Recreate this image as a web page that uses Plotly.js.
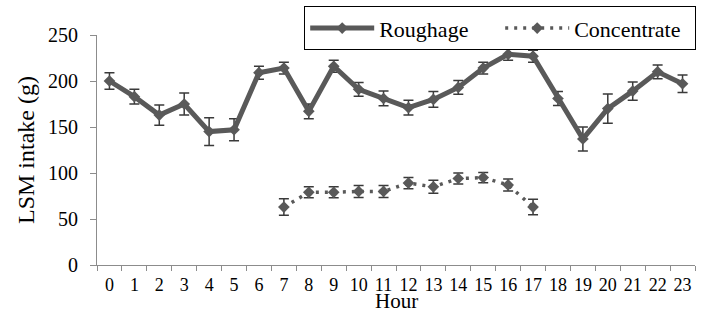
<!DOCTYPE html>
<html>
<head>
<meta charset="utf-8">
<script src="https://cdn.plot.ly/plotly-3.0.1.min.js"></script>
<style>
  html, body { margin: 0; padding: 0; background: #fff; }
  #chart { width: 702px; height: 313px; }
</style>
</head>
<body>
<div id="chart"></div>
<script>
// ---- data ----
var hours = ['0','1','2','3','4','5','6','7','8','9','10','11','12','13','14','15','16','17','18','19','20','21','22','23'];
var roughage = [200, 183, 163, 175, 145, 147, 209, 214, 167, 216, 191, 181, 171, 180, 193, 214, 229, 227, 181, 137, 170, 189, 210, 197];
var roughageErr = [9, 8, 11, 12, 15, 12, 7, 6.5, 8, 6.5, 7.5, 8, 8, 8.5, 7.5, 6.5, 6.5, 6.5, 7.5, 13, 16, 10, 7.5, 9.5];
var concHours = ['7','8','9','10','11','12','13','14','15','16','17'];
var concentrate = [63, 79, 79, 80, 80, 89, 85, 94, 95, 87, 63];
var concentrateErr = [9, 6, 6, 6.5, 6.5, 6, 7, 6, 5.5, 6.5, 8.5];
var yTicks = [0, 50, 100, 150, 200, 250];

var FONT = 'Liberation Serif';
var LINE = '#595959';
var ERR = '#3a3a3a';
var AX = '#8c8c8c';

var traces = [
  {
    name: 'Roughage', x: hours, y: roughage, type: 'scatter', mode: 'lines+markers',
    line: {color: LINE, width: 5},
    marker: {symbol: 'diamond', size: 9, color: LINE},
    error_y: {type: 'data', array: roughageErr, visible: true, color: ERR, thickness: 1.5, width: 5}
  },
  {
    name: 'Concentrate', x: concHours, y: concentrate, type: 'scatter', mode: 'lines+markers',
    line: {color: LINE, width: 3.5, dash: '3px,6px'},
    marker: {symbol: 'diamond', size: 9, color: LINE},
    error_y: {type: 'data', array: concentrateErr, visible: true, color: ERR, thickness: 1.5, width: 5}
  }
];

var layout = {
  width: 702, height: 313,
  margin: {l: 97, r: 6, t: 33, b: 48},
  paper_bgcolor: '#fff', plot_bgcolor: '#fff',
  font: {family: FONT, color: '#000', size: 18},
  showlegend: true,
  legend: {
    orientation: 'h', x: 1.002, xanchor: 'right', y: 1.125, yanchor: 'top',
    bordercolor: '#000', borderwidth: 1, bgcolor: '#fff',
    font: {family: FONT, size: 22, color: '#000'},
    itemwidth: 64, entrywidth: 116, tracegroupgap: 0
  },
  xaxis: {
    type: 'category', categoryarray: hours, categoryorder: 'array',
    range: [-0.5, 23.5], tickson: 'boundaries',
    showline: true, linecolor: AX, linewidth: 1,
    ticks: 'outside', ticklen: 5, tickcolor: AX,
    tickangle: 0, ticklabelstandoff: 3,
    tickfont: {family: FONT, size: 18, color: '#000'},
    showgrid: false, zeroline: false, fixedrange: true
  },
  yaxis: {
    range: [0, 250], tickvals: yTicks,
    showline: true, linecolor: AX, linewidth: 1,
    ticks: 'outside', ticklen: 6, tickcolor: AX,
    ticklabelstandoff: 8,
    tickfont: {family: FONT, size: 20, color: '#000'},
    title: {text: 'LSM intake (g)', font: {family: FONT, size: 24, color: '#000'}, standoff: 6},
    showgrid: false, zeroline: false, fixedrange: true
  },
  annotations: [
    {text: 'Hour', xref: 'paper', yref: 'paper', x: 0.5, y: -0.155, xanchor: 'center', yanchor: 'middle',
     showarrow: false, font: {family: FONT, size: 21, color: '#000'}}
  ]
};

Plotly.newPlot('chart', traces, layout, {displayModeBar: false, staticPlot: true});
</script>
</body>
</html>
